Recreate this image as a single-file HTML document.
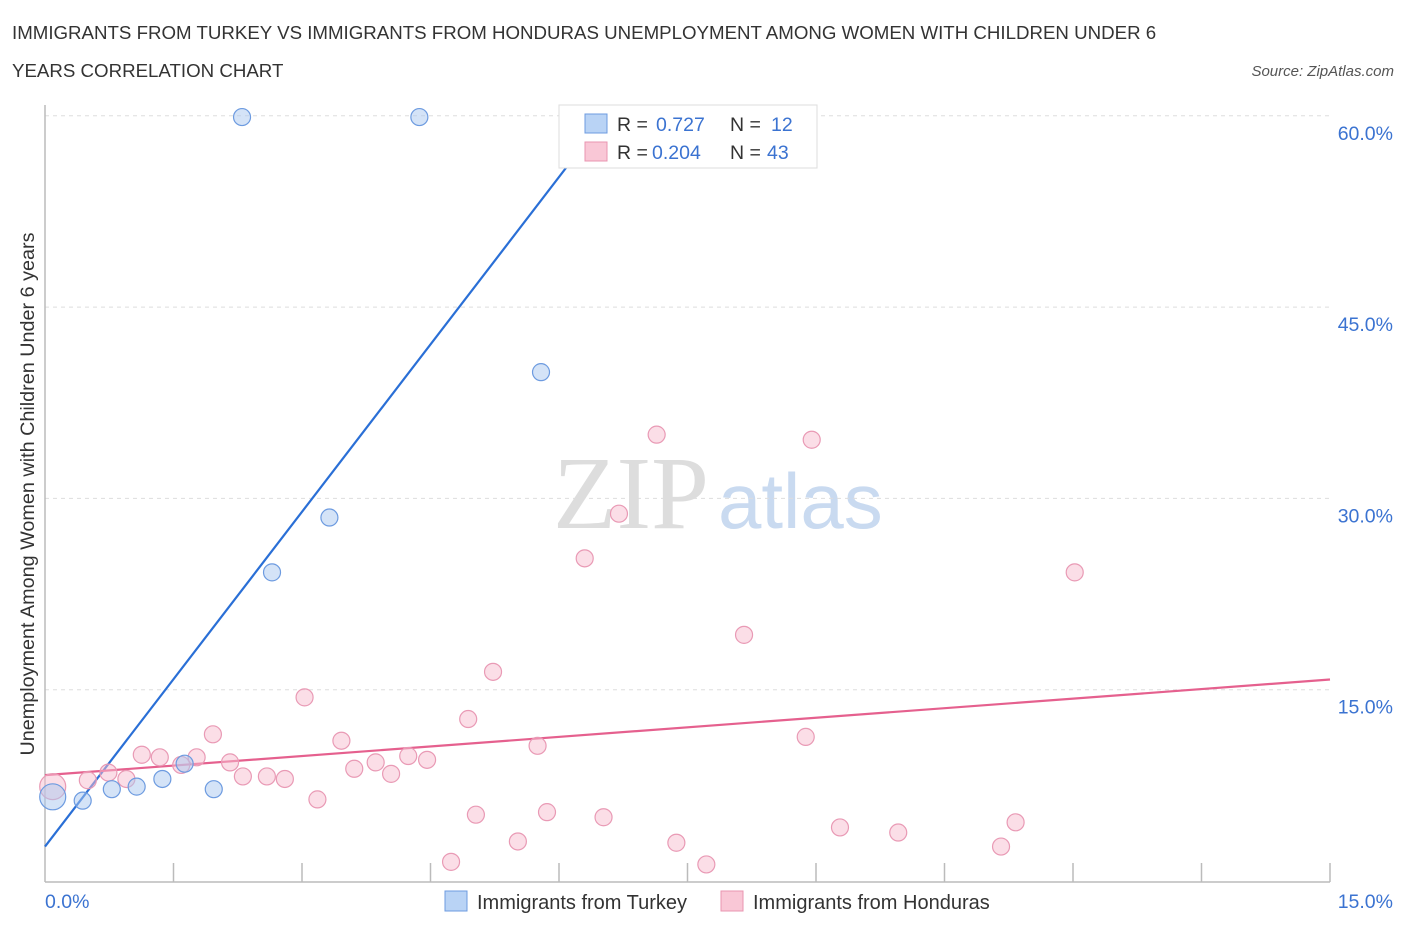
<!DOCTYPE html>
<html><head><meta charset="utf-8"><style>
body{margin:0;background:#fff;font-family:"Liberation Sans",sans-serif;}
svg text{font-family:"Liberation Sans",sans-serif;}
</style></head><body>
<svg id="chart" width="1406" height="930" viewBox="0 0 1406 930" xmlns="http://www.w3.org/2000/svg">
<text x="12" y="39" font-size="18.7" fill="#333">IMMIGRANTS FROM TURKEY VS IMMIGRANTS FROM HONDURAS UNEMPLOYMENT AMONG WOMEN WITH CHILDREN UNDER 6</text>
<text x="12" y="77" font-size="18.7" fill="#333">YEARS CORRELATION CHART</text>
<text x="1394" y="76" font-size="15" fill="#555" font-style="italic" text-anchor="end">Source: ZipAtlas.com</text>
<text transform="translate(34,494) rotate(-90)" font-size="19.8" fill="#333" text-anchor="middle">Unemployment Among Women with Children Under 6 years</text>
<text x="553" y="528" font-size="104" fill="#ddd" style="font-family:'Liberation Serif',serif">ZIP</text>
<text x="718" y="528" font-size="78" fill="#c9daf0">atlas</text>
<g id="grid"></g>
<g id="axes"></g>
<g id="lines"></g>
<g id="points"></g>
<g>
<rect x="559" y="105" width="258" height="63" fill="#fff" stroke="#ddd"/>
<rect x="585" y="114" width="22" height="19" fill="#b9d3f5" stroke="#6d9be0"/>
<rect x="585" y="142" width="22" height="19" fill="#f9c7d6" stroke="#e994b0"/>
<text x="617" y="131" font-size="19.5" fill="#333">R =</text>
<text x="656" y="131" font-size="19.5" fill="#3b73d1">0.727</text>
<text x="730" y="131" font-size="19.5" fill="#333">N =</text>
<text x="771" y="131" font-size="19.5" fill="#3b73d1">12</text>
<text x="617" y="159" font-size="19.5" fill="#333">R =</text>
<text x="652" y="159" font-size="19.5" fill="#3b73d1">0.204</text>
<text x="730" y="159" font-size="19.5" fill="#333">N =</text>
<text x="767" y="159" font-size="19.5" fill="#3b73d1">43</text>
</g>
<g>
<rect x="445" y="891" width="22" height="20" fill="#b9d3f5" stroke="#6d9be0"/>
<text x="477" y="909" font-size="20" fill="#333">Immigrants from Turkey</text>
<rect x="721" y="891" width="22" height="20" fill="#f9c7d6" stroke="#e994b0"/>
<text x="753" y="909" font-size="20" fill="#333">Immigrants from Honduras</text>
</g>
</svg>
<script>
const yTicks=[15,30,45,60];
const yTickLabels=["15.0%","30.0%","45.0%","60.0%"];
const turkeyX=[0.09,0.44,0.78,1.07,1.37,1.63,1.97,2.30,2.65,3.32,4.37,5.79];
const turkeyY=[6.6,6.3,7.2,7.4,8.0,9.2,7.2,59.9,24.2,28.5,59.9,39.9];
const hondurasX=[0.09,0.50,0.74,0.95,1.13,1.34,1.59,1.77,1.96,2.16,2.31,2.59,2.80,3.03,3.18,3.46,3.61,3.86,4.04,4.24,4.46,4.74,4.94,5.03,5.23,5.52,5.75,5.86,6.30,6.52,6.70,7.14,7.37,7.72,8.16,8.88,8.95,9.28,9.96,11.16,11.33,12.02];
const hondurasY=[7.4,7.9,8.5,8.0,9.9,9.7,9.1,9.7,11.5,9.3,8.2,8.2,8.0,14.4,6.4,11.0,8.8,9.3,8.4,9.8,9.5,1.5,12.7,5.2,16.4,3.1,10.6,5.4,25.3,5.0,28.8,35.0,3.0,1.3,19.3,11.3,34.6,4.2,3.8,2.7,4.6,24.2];
const turkeyTrend=[2.7,8.75]; // intercept, slope
const hondurasTrend=[8.3,0.5];
const NS='http://www.w3.org/2000/svg';
const sx=v=>45+v*1285/15;
const sy=v=>881-v*191.3/15;
function mk(tag,attrs,parent){const e=document.createElementNS(NS,tag);for(const k in attrs)e.setAttribute(k,attrs[k]);document.getElementById(parent).appendChild(e);return e;}
yTicks.forEach((t,i)=>{
 const l=mk('line',{x1:45,x2:1330,y1:sy(t),y2:sy(t),stroke:'#ddd','stroke-dasharray':'4,4'},'grid');
 
 
 const tx=mk('text',{x:1393,y:sy(t)+24,'font-size':19.5,fill:'#3b73d1','text-anchor':'end'},'grid');
 tx.textContent=yTickLabels[i];
 
 
});
const ax=mk('line',{x1:45,x2:1330,y1:882,y2:882,stroke:'#bbb','stroke-width':1.5},'axes');


const ay=mk('line',{x1:45,x2:45,y1:105,y2:882,stroke:'#bbb','stroke-width':1.5},'axes');


for(let i=1;i<=10;i++){const t=mk('line',{x1:sx(i*1.5),x2:sx(i*1.5),y1:863,y2:882,stroke:'#bbb','stroke-width':1.5},'axes');
 
 }
const x0=mk('text',{x:45,y:908,'font-size':19.5,fill:'#3b73d1'},'axes');x0.textContent='0.0%';


const x1=mk('text',{x:1393,y:908,'font-size':19.5,fill:'#3b73d1','text-anchor':'end'},'axes');x1.textContent='15.0%';


function dots(X,Y,fill,stroke,name){X.forEach((x,i)=>{const r=i===0?13:8.5;
 const c=mk('circle',{cx:sx(x),cy:sy(Y[i]),r:r,fill:fill,stroke:stroke,'stroke-width':1.2},'points');
 
 });}
dots(hondurasX,hondurasY,'rgba(248,190,208,0.5)','#e99ab5','honduras-point');
dots(turkeyX,turkeyY,'rgba(170,200,240,0.5)','#6d9be0','turkey-point');
const tx2=(60-turkeyTrend[0])/turkeyTrend[1]*0.985;
const lt=mk('line',{x1:sx(0),y1:sy(turkeyTrend[0]),x2:sx(tx2),y2:sy(turkeyTrend[0]+turkeyTrend[1]*tx2),stroke:'#2a6fd6','stroke-width':2.2},'lines');


const lh=mk('line',{x1:sx(0),y1:sy(hondurasTrend[0]),x2:sx(15),y2:sy(hondurasTrend[0]+hondurasTrend[1]*15),stroke:'#e5608e','stroke-width':2.2},'lines');


</script>
</body></html>
